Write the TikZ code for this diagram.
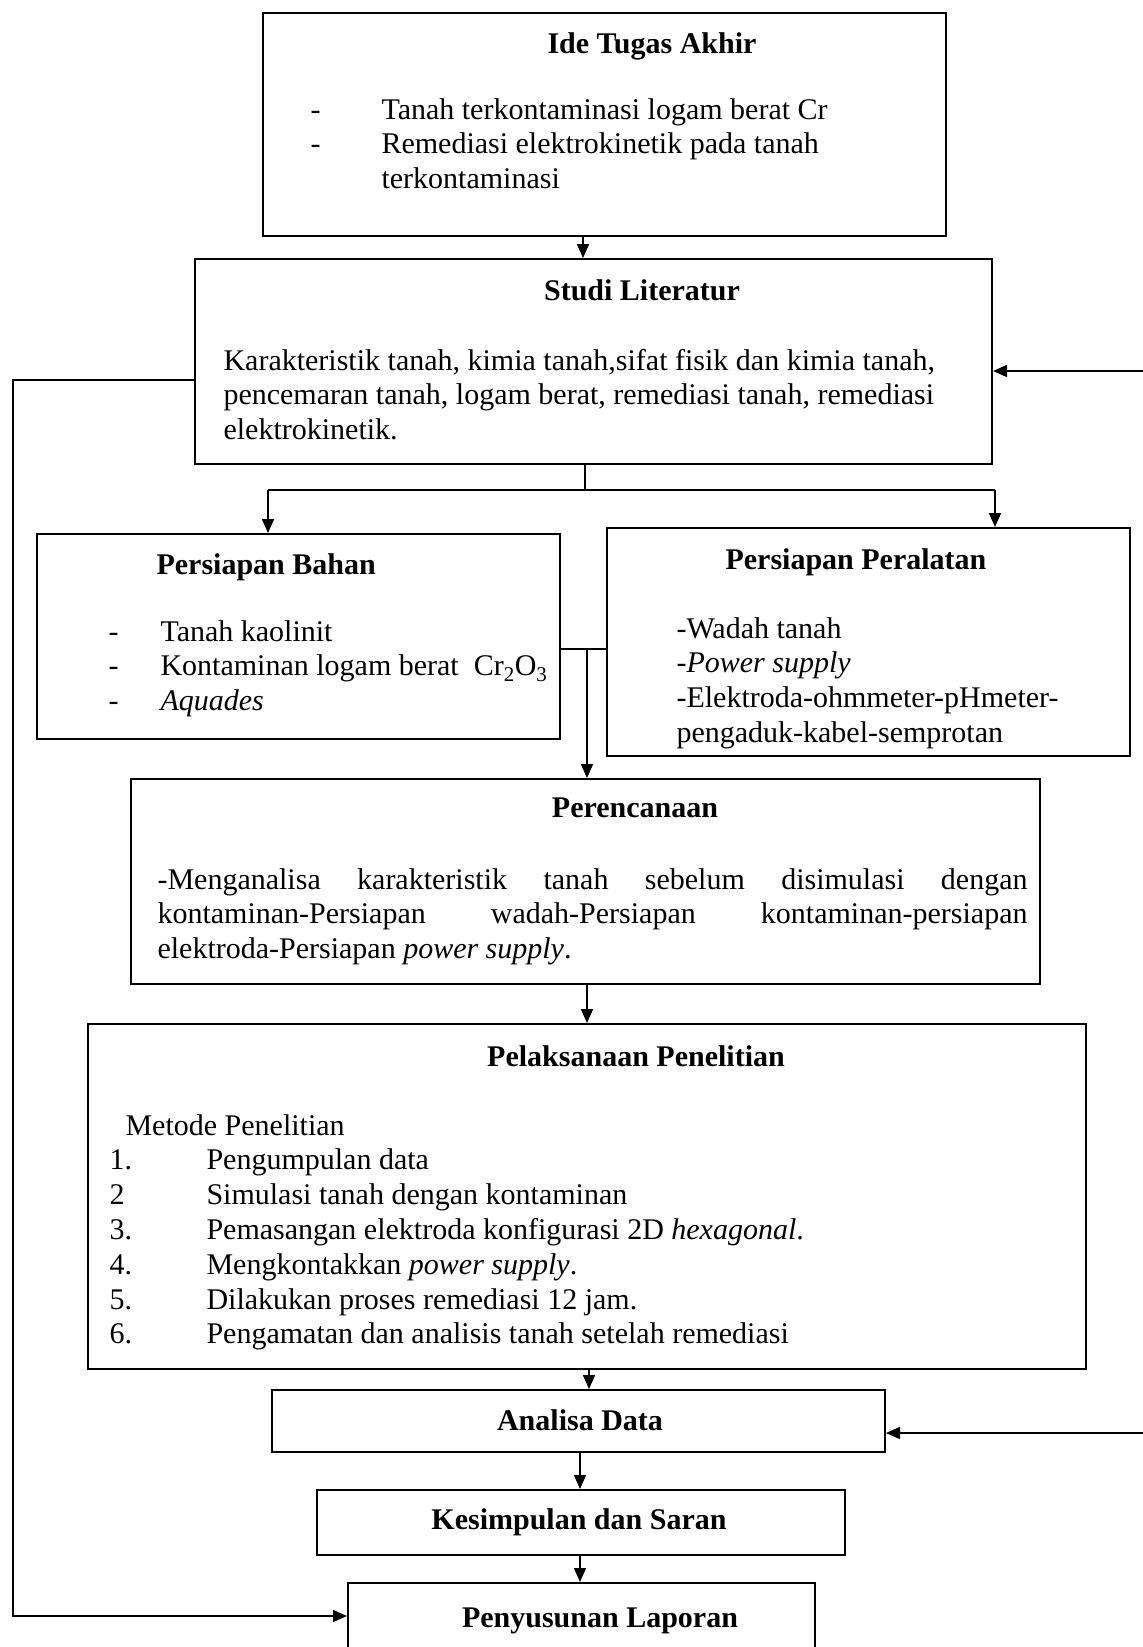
\documentclass[tikz,border=0pt]{standalone}
\usepackage{fontspec}
\setmainfont{Liberation Serif}
\usetikzlibrary{arrows.meta}

\tikzset{
  kotak/.style={draw, line width=2pt, inner sep=0pt},
  judul/.style={font=\fontsize{30}{34.8}\selectfont\bfseries, anchor=base},
  isi/.style={align=left, anchor=base west},
  panah/.style={-{Triangle[length=14pt, width=12pt]}, line width=1.6pt},
  garis/.style={line width=1.6pt},
}
\newcommand{\butir}[1]{\makebox[#1][l]{-}}

\begin{document}
\begin{tikzpicture}[x=1pt, y=-1pt, font=\fontsize{30}{34.8}\selectfont]
        \useasboundingbox (0,0) rectangle (1143,1647);

        % ide tugas akhir
        \node[kotak, minimum width=683pt, minimum height=223pt] (ide) at (604.5,124.5) {};
        \node[judul] (ideJudul) at (652,53) {Ide Tugas Akhir};
        % base = last line
        \node[isi] (ideIsi) at (307,188.6) {\butir{71pt}Tanah terkontaminasi logam berat Cr\\
            \butir{71pt}Remediasi elektrokinetik pada tanah\\
            \hspace*{71pt}terkontaminasi};

        % studi literatur
        \node[kotak, minimum width=797pt, minimum height=205pt] (studi) at (593.5,361.5) {};
        \node[judul] (studiJudul) at (642,300) {Studi Literatur};
        \node[isi] (studiIsi) at (220,439.6) {Karakteristik tanah, kimia tanah,sifat fisik dan kimia tanah,\\
            pencemaran tanah, logam berat, remediasi tanah, remediasi\\
            elektrokinetik.};

        % persiapan bahan
        \node[kotak, minimum width=523pt, minimum height=205pt] (bahan) at (298.5,636.5) {};
        \node[judul, anchor=base west] (bahanJudul) at (153,574) {Persiapan Bahan};
        \node[isi] (bahanIsi) at (105,710.6) {\butir{52pt}Tanah kaolinit\\
            \butir{52pt}Kontaminan logam berat\ \ Cr\textsubscript{2}O\textsubscript{3}\\
            \butir{52pt}\textit{Aquades}};

        % persiapan peralatan
        \node[kotak, minimum width=523pt, minimum height=228pt] (alat) at (868.5,642) {};
        \node[judul, anchor=base west] (alatJudul) at (722,569) {Persiapan Peralatan};
        \node[isi] (alatIsi) at (673,742.4) {-Wadah tanah\\
            \textit{-Power supply}\\
            -Elektroda-ohmmeter-pHmeter-\\
            pengaduk-kabel-semprotan};

        % perencanaan
        \node[kotak, minimum width=909pt, minimum height=205pt] (rencana) at (585.5,881.5) {};
        \node[judul] (rencanaJudul) at (635,817) {Perencanaan};
        \node[isi] (rencanaIsi) at (154,958.6) {\makebox[870pt][s]{-Menganalisa karakteristik tanah sebelum disimulasi dengan}\\
            \makebox[870pt][s]{kontaminan-Persiapan wadah-Persiapan kontaminan-persiapan}\\
            elektroda-Persiapan \textit{power supply}.};

        % pelaksanaan penelitian
        \node[kotak, minimum width=998pt, minimum height=345pt] (laksana) at (587,1196.5) {};
        \node[judul] (laksanaJudul) at (636,1066) {Pelaksanaan Penelitian};
        \node[isi] (laksanaIsi) at (106,1343.8) {\hspace*{16pt}Metode Penelitian\\
            \makebox[97pt][l]{1.}Pengumpulan data\\
            \makebox[97pt][l]{2}Simulasi tanah dengan kontaminan\\
            \makebox[97pt][l]{3.}Pemasangan elektroda konfigurasi 2D \textit{hexagonal}.\\
            \makebox[97pt][l]{4.}Mengkontakkan \textit{power supply}.\\
            \makebox[97pt][l]{5.}Dilakukan proses remediasi 12 jam.\\
            \makebox[97pt][l]{6.}Pengamatan dan analisis tanah setelah remediasi};

        % analisa, kesimpulan, laporan
        \node[kotak, minimum width=613pt, minimum height=62pt] (analisa) at (578.5,1421) {};
        \node[judul] (analisaJudul) at (580,1430) {Analisa Data};
        \node[kotak, minimum width=528pt, minimum height=65pt] (simpul) at (581,1522.5) {};
        \node[judul] (simpulJudul) at (579,1529) {Kesimpulan dan Saran};
        \node[kotak, minimum width=467pt, minimum height=66pt] (susun) at (581.5,1616) {};
        \node[judul] (susunJudul) at (600,1627) {Penyusunan Laporan};

        % arrows down the middle
        \coordinate (poros1) at (583,0);
        \coordinate (poros2) at (589,0);
        \coordinate (poros3) at (580,0);
        \draw[panah] (ide.south -| poros1) -- (studi.north -| poros1);

        % split to bahan and alat
        \coordinate (cabang) at (585,490);
        \coordinate (cabangKiri) at (268,490);
        \coordinate (cabangKanan) at (995,490);
        \draw[garis] (studi.south -| cabang) -- (cabang);
        \draw[garis] (cabangKiri) -- (cabangKanan);
        \draw[panah] (cabangKiri) -- (cabangKiri |- bahan.north);
        \draw[panah] (cabangKanan) -- (cabangKanan |- alat.north);

        % join to perencanaan
        \coordinate (gabung) at (587,649);
        \draw[garis] (gabung -| bahan.east) -- (gabung -| alat.west);
        \draw[panah] (gabung) -- (gabung |- rencana.north);
        \draw[panah] (rencana.south -| gabung) -- (laksana.north -| gabung);
        \draw[panah] (laksana.south -| poros2) -- (analisa.north -| poros2);
        \draw[panah] (analisa.south -| poros3) -- (simpul.north -| poros3);
        \draw[panah] (simpul.south -| poros3) -- (susun.north -| poros3);

        % feedback on the left
        \coordinate (kiri) at (13,380);
        \draw[panah] (kiri -| studi.west) -- (kiri) |- (susun.west);

        % feedback from the right
        \coordinate (kanan1) at (1160,371);
        \coordinate (kanan2) at (1160,1433);
        \draw[panah] (kanan1) -- (kanan1 -| studi.east);
        \draw[panah] (kanan2) -- (kanan2 -| analisa.east);

\end{tikzpicture}
\end{document}
